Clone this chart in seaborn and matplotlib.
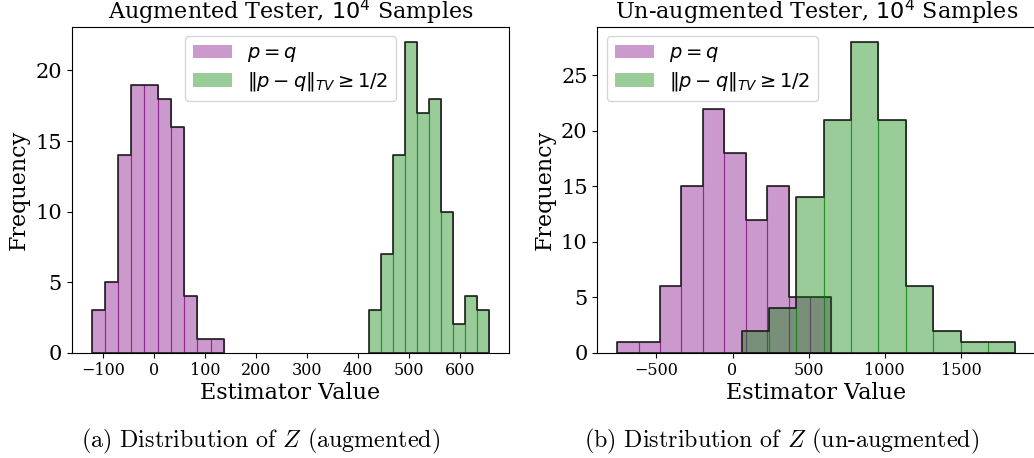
import numpy as np
import matplotlib
matplotlib.use('Agg')
import matplotlib.pyplot as plt
import matplotlib.patches as mpatches
from matplotlib.colors import to_rgba
import seaborn as sns

# histogram bin edges and counts (100 trials each)
# (a) augmented tester
aug_same_edges = [-122, -96.1, -70.2, -44.3, -18.4, 7.5, 33.4, 59.3, 85.2, 111.1, 137.0]
aug_same_counts = [3, 5, 14, 19, 19, 18, 16, 4, 1, 1]
aug_far_edges = [421.9, 445.5, 469.0, 492.6, 516.2, 539.8, 563.3, 586.9, 610.5, 634.0, 657.6]
aug_far_counts = [3, 7, 14, 22, 17, 18, 10, 2, 4, 3]

# (b) un-augmented tester
unaug_same_edges = [-757.7, -616.9, -476.2, -335.4, -194.6, -53.9, 86.9, 227.7, 368.5, 509.2, 650.0]
unaug_same_counts = [1, 1, 6, 15, 22, 18, 12, 15, 5, 5]
unaug_far_edges = [59.1, 239.0, 418.9, 598.8, 778.7, 958.6, 1138.5, 1318.4, 1498.3, 1678.2, 1858.1]
unaug_far_counts = [2, 4, 14, 21, 28, 21, 6, 2, 1, 1]

labels = [r'$p = q$', r'$\|p - q\|_{TV} \geq 1/2$']
colors = ['purple', 'green']

plt.rcParams['font.family'] = ['DejaVu Serif']


def draw_hist(ax, edges, counts, color):
    centers = [(a + b) / 2 for a, b in zip(edges[:-1], edges[1:])]
    # filled bars with thin coloured edges
    sns.histplot(x=centers, weights=counts, bins=list(edges), ax=ax, color=color,
                 alpha=0.4, edgecolor=to_rgba(color, 0.5), linewidth=0.8)
    # black outline around the whole histogram
    sns.histplot(x=centers, weights=counts, bins=list(edges), ax=ax, element='step',
                 fill=True, color='black', facecolor='none',
                 edgecolor=(0.1, 0.1, 0.1, 0.9), linewidth=1.3)


fig = plt.figure(figsize=(10.34, 4.58), dpi=100)
ax1 = fig.add_axes([71.7 / 1034, 0.2299, 437.6 / 1034, 0.7118])
ax2 = fig.add_axes([597.3 / 1034, 0.2299, 438 / 1034, 0.7118])

draw_hist(ax1, aug_same_edges, aug_same_counts, colors[0])
draw_hist(ax1, aug_far_edges, aug_far_counts, colors[1])
draw_hist(ax2, unaug_same_edges, unaug_same_counts, colors[0])
draw_hist(ax2, unaug_far_edges, unaug_far_counts, colors[1])

titles = ['Augmented Tester, $10^4$ Samples', 'Un-augmented Tester, $10^4$ Samples']
locs = ['upper center', 'upper left']
for ax, title, loc in zip([ax1, ax2], titles, locs):
    ax.set_title(title, fontsize=16, pad=0.8)
    ax.set_xlabel('Estimator Value', fontsize=16, labelpad=2)
    ax.set_ylabel('Frequency', fontsize=16)
    ax.tick_params(axis='x', labelsize=11.5)
    ax.tick_params(axis='y', labelsize=15)
    handles = [mpatches.Patch(facecolor=to_rgba(c, 0.4), edgecolor='none', label=l)
               for c, l in zip(colors, labels)]
    ax.legend(handles=handles, loc=loc, fontsize=14, labelspacing=0.3)

fig.text(261 / 1034, 1 - 441.7 / 458, r'(a) Distribution of $Z$ (augmented)',
         fontfamily=['cmr10', 'DejaVu Serif'], math_fontfamily='cm', fontsize=17.3,
         ha='center', va='center')
fig.text(781.7 / 1034, 1 - 441.7 / 458, r'(b) Distribution of $Z$ (un-augmented)',
         fontfamily=['cmr10', 'DejaVu Serif'], math_fontfamily='cm', fontsize=17.3,
         ha='center', va='center')

fig.savefig('out.png', dpi=100)
